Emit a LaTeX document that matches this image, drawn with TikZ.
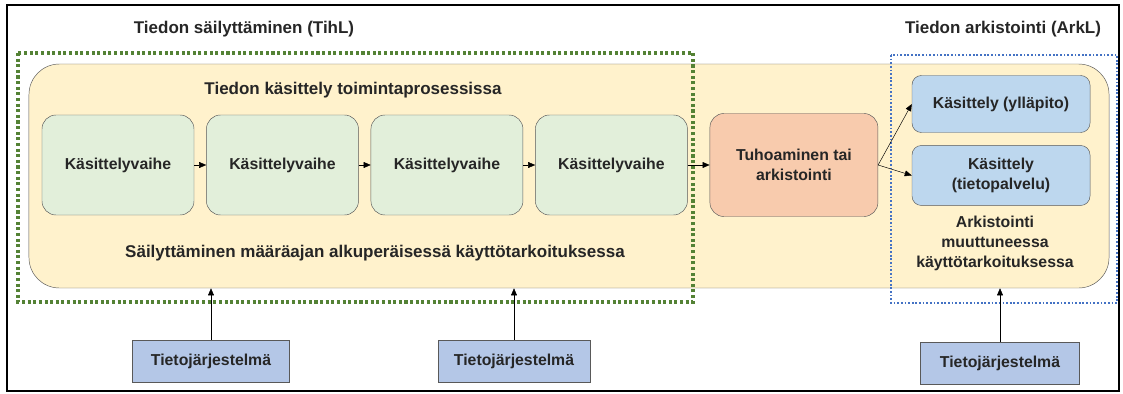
\documentclass[tikz,border=0pt]{standalone}
\usepackage{fontspec}
\setmainfont{Liberation Sans}
\usetikzlibrary{arrows.meta, positioning}
\definecolor{txt}{HTML}{262626}
\definecolor{storefill}{HTML}{FFF2CC}
\definecolor{phasefill}{HTML}{E2EFDA}
\definecolor{endfill}{HTML}{F8CBAD}
\definecolor{archfill}{HTML}{BDD7EE}
\definecolor{sysfill}{HTML}{B4C7E7}
\definecolor{tihlgreen}{HTML}{548235}
\definecolor{arklblue}{HTML}{4472C4}
\definecolor{boxline}{HTML}{595959}

\begin{document}
\begin{tikzpicture}[
      x=0.03cm, y=-0.03cm, >={Triangle[length=6pt,width=5pt]},
      font=\bfseries\fontsize{13.5}{17}\selectfont, text=txt, node distance=0.36cm,
      big/.style={font=\bfseries\fontsize{14.5}{17}\selectfont},
      phase/.style={draw=boxline, fill=phasefill, rounded corners=12pt,
          minimum width=4.56cm, minimum height=3cm},
      endbox/.style={draw=boxline, fill=endfill, rounded corners=12pt,
          minimum width=5.04cm, minimum height=3.09cm, align=center},
      archbox/.style={draw=boxline, fill=archfill, rounded corners=8pt,
          minimum width=5.34cm, align=center},
      sysbox/.style={draw=boxline, fill=sysfill, minimum height=1.26cm},
      store/.style={draw=boxline, fill=storefill, rounded corners=26pt,
          minimum width=32.4cm, minimum height=6.72cm},
      tihl/.style={draw=tihlgreen, line width=3pt, dash pattern=on 2.6pt off 2.2pt},
      arkl/.style={draw=arklblue, line width=1.6pt, dash pattern=on 1.5pt off 1.6pt}
      ]
      \useasboundingbox (0,0) rectangle (1123,394);
      \draw[line width=1.5pt] (7,5) rectangle (1119,391);

      \node[store]                    (store) at (569,176)       {};
      \draw[tihl] (18,53) rectangle (693,302);
      \draw[arkl] (891,55) rectangle (1117,303);

      \node[big]                      (tihl_t) at (244,29)       {Tiedon säilyttäminen (TihL)};
      \node[big]                      (arkl_t) at (1003,29)      {Tiedon arkistointi (ArkL)};
      \node[big]                      (proc) at (353,90)         {Tiedon käsittely toimintaprosessissa};
      \node[big]                      (keep) at (375,253)        {Säilyttäminen määräajan alkuperäisessä käyttötarkoituksessa};

      \node[phase]                    (g_1) at (118,165)         {Käsittelyvaihe};
      \node[phase]                    (g_2) [right=of g_1]       {Käsittelyvaihe};
      \node[phase]                    (g_3) [right=of g_2]       {Käsittelyvaihe};
      \node[phase]                    (g_4) [right=of g_3]       {Käsittelyvaihe};
      \node[endbox]                   (end) [right=0.66cm of g_4] {Tuhoaminen tai\\arkistointi};

      \node[archbox, minimum height=1.71cm] (b_1) at (1001,104)  {Käsittely (ylläpito)};
      \node[archbox, minimum height=1.8cm]  (b_2) [below=0.375cm of b_1] {Käsittely\\(tietopalvelu)};
      \node[align=center]             (arch) at (995,243)        {Arkistointi\\muuttuneessa\\käyttötarkoituksessa};

      \node[sysbox, minimum width=4.71cm] (t_1) at (211,361)     {Tietojärjestelmä};
      \node[sysbox, minimum width=4.56cm] (t_2) at (514,361)     {Tietojärjestelmä};
      \node[sysbox, minimum width=4.77cm] (t_3) at (1000,363)    {Tietojärjestelmä};

      \path[->] (g_1) edge (g_2)
      (g_2) edge (g_3)
      (g_3) edge (g_4)
      (g_4) edge (end)
      (end.east) edge (b_1.west)
      (end.east) edge (b_2.west)
      (t_1) edge (t_1 |- store.south)
      (t_2) edge (t_2 |- store.south)
      (t_3) edge (t_3 |- store.south);
    \end{tikzpicture}
\end{document}
